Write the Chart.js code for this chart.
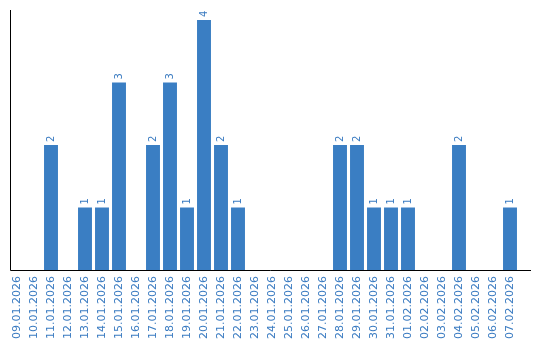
<!DOCTYPE html>
<html>
<head>
<meta charset="utf-8">
<script src="https://cdn.jsdelivr.net/npm/chart.js@4"></script>
<style>
  html, body { margin: 0; padding: 0; background: #fff; }
  #wrap { width: 540px; height: 340px; }
</style>
</head>
<body>
<div id="wrap"><canvas id="chart" width="540" height="340"></canvas></div>
<script>
// daily counts
const days = ['09.01.2026', '10.01.2026', '11.01.2026', '12.01.2026', '13.01.2026', '14.01.2026',
	'15.01.2026', '16.01.2026', '17.01.2026', '18.01.2026', '19.01.2026', '20.01.2026',
	'21.01.2026', '22.01.2026', '23.01.2026', '24.01.2026', '25.01.2026', '26.01.2026',
	'27.01.2026', '28.01.2026', '29.01.2026', '30.01.2026', '31.01.2026', '01.02.2026',
	'02.02.2026', '03.02.2026', '04.02.2026', '05.02.2026', '06.02.2026', '07.02.2026'];
const counts = [0, 0, 2, 0, 1, 1, 3, 0, 2, 3, 1, 4, 2, 1, 0, 0, 0, 0, 0, 2, 2, 1, 1, 1, 0, 0, 2, 0, 0, 1];

const blue = '#3a7ec3';
const textBlue = '#3a7bc1';

// axis lines + rotated value labels on top of the bars
const decor = {
	id: 'decor',
	afterDatasetsDraw(chart) {
		const ctx = chart.ctx;
		const area = chart.chartArea;
		ctx.save();
		ctx.strokeStyle = '#000';
		ctx.lineWidth = 1;
		ctx.beginPath();
		ctx.moveTo(10.5, area.top);
		ctx.lineTo(10.5, area.bottom + 0.5);
		ctx.lineTo(531, area.bottom + 0.5);
		ctx.stroke();

		const meta = chart.getDatasetMeta(0);
		ctx.fillStyle = textBlue;
		ctx.font = '10px "DejaVu Sans", Verdana, sans-serif';
		ctx.textAlign = 'left';
		ctx.textBaseline = 'middle';
		meta.data.forEach((bar, i) => {
			if (!counts[i]) return;
			ctx.save();
			ctx.translate(bar.x, bar.y - 3);
			ctx.rotate(-Math.PI / 2);
			ctx.fillText(String(counts[i]), 0, 0);
			ctx.restore();
		});
		ctx.restore();
	}
};

new Chart(document.getElementById('chart'), {
	type: 'bar',
	data: {
		labels: days,
		datasets: [{
			data: counts,
			backgroundColor: blue,
			borderWidth: 0,
			categoryPercentage: 1,
			barPercentage: 0.82
		}]
	},
	options: {
		responsive: false,
		animation: false,
		layout: { padding: { left: 8.5, right: 21.5, top: 10, bottom: 0 } },
		scales: {
			x: {
				grid: { display: false, drawTicks: false },
				border: { display: false },
				ticks: {
					color: textBlue,
					font: { family: '"DejaVu Sans", Verdana, sans-serif', size: 11 },
					minRotation: 90,
					maxRotation: 90,
					autoSkip: false,
					padding: 6
				},
				afterFit(scale) { scale.height = 70; }
			},
			y: {
				display: false,
				beginAtZero: true,
				bounds: 'data',
				max: Math.max(...counts) * 1.04
			}
		},
		plugins: { legend: { display: false }, tooltip: { enabled: false } }
	},
	plugins: [decor]
});
</script>
</body>
</html>
